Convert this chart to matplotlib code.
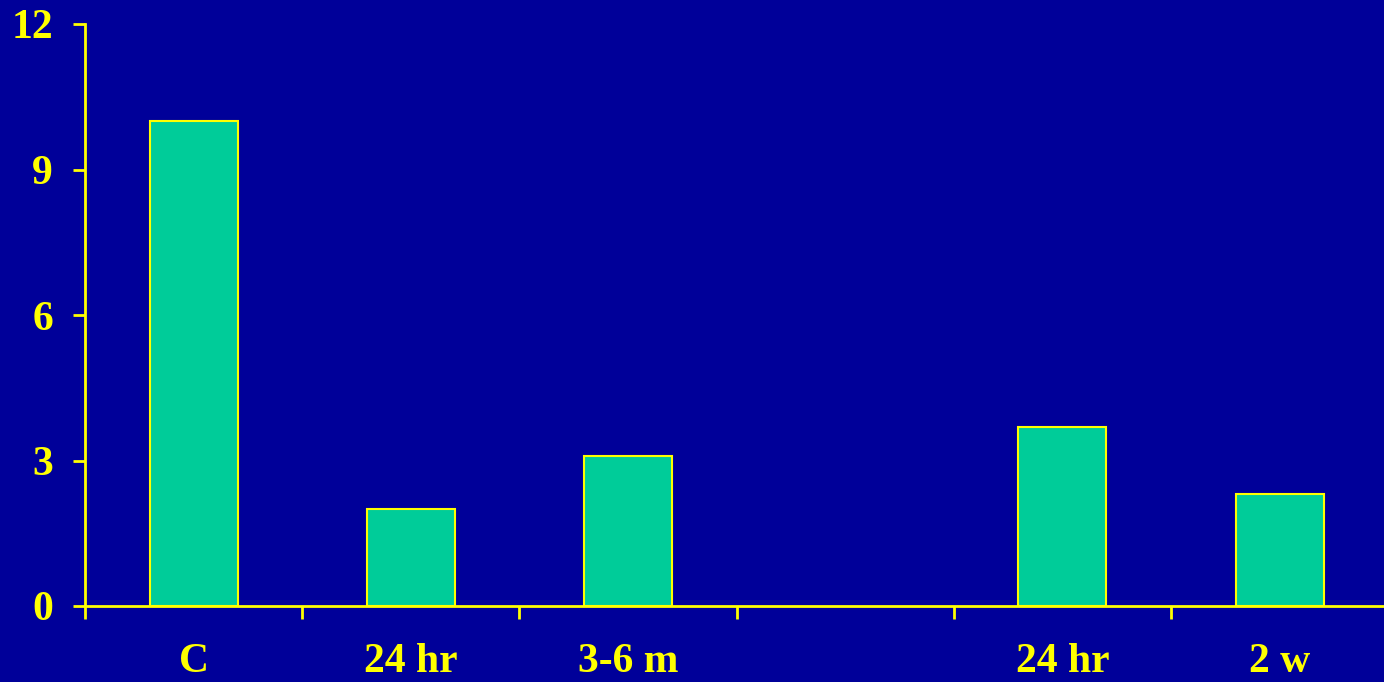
import matplotlib.pyplot as plt
import numpy as np

# group labels (one empty slot between the two groups)
categories = ["C", "24 hr", "3-6 m", "", "24 hr", "2 w"]
values = [10.0, 2.0, 3.1, np.nan, 3.7, 2.3]
yticks = [0, 3, 6, 9, 12]

bg = "#000099"
yellow = "#FFFF00"
barcol = "#00CC99"

plt.rcParams['font.family'] = ['Liberation Serif', 'DejaVu Serif']
plt.rcParams['font.weight'] = 'bold'

fig = plt.figure(figsize=(13.84, 6.82), dpi=100, facecolor=bg)
ax = fig.add_axes([85/1384, 76/682, 1299/1384, 582/682], facecolor=bg)

x = np.arange(len(categories)) + 0.5
mask = ~np.isnan(values)
ax.bar(x[mask], np.array(values)[mask], width=0.405, color=barcol,
       edgecolor=yellow, linewidth=1.5, zorder=3)

ax.set_xlim(0, 1299/217.2)
ax.set_ylim(0, 12)
ax.set_yticks(yticks)
ax.set_yticklabels([str(t) for t in yticks])

# ticks on slot boundaries, labels at slot centres
ax.set_xticks(np.arange(len(categories)))
ax.set_xticks(x, minor=True)
ax.set_xticklabels([""] * len(categories))
ax.set_xticklabels(categories, minor=True)
ax.tick_params(axis='x', which='minor', length=0, pad=27)
ax.tick_params(axis='x', which='major', length=9, width=2, color=yellow, direction='out')
ax.tick_params(axis='y', length=9, width=2, color=yellow, direction='out', pad=14)
ax.tick_params(labelsize=30, labelcolor=yellow)
ax.tick_params(axis='x', which='minor', labelsize=30, labelcolor=yellow)

for s in ['top', 'right']:
    ax.spines[s].set_visible(False)
for s in ['left', 'bottom']:
    ax.spines[s].set_color(yellow)
    ax.spines[s].set_linewidth(2)

fig.savefig("out.png", dpi=100, facecolor=bg)
